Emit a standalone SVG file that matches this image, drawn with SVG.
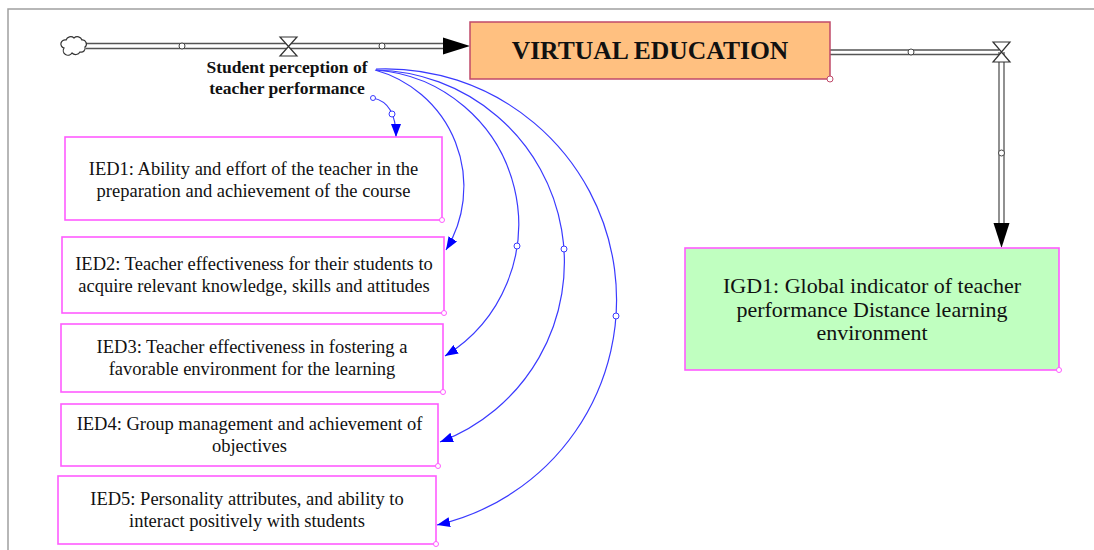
<svg xmlns="http://www.w3.org/2000/svg" width="1094" height="550" viewBox="0 0 1094 550">
<style>
.bg{fill:#ffffff}
.frame{fill:none;stroke:#a0a0a0;stroke-width:1.5}
.pipe{fill:none;stroke:#555;stroke-width:1.3}
.pipew{fill:none;stroke:#ffffff;stroke-width:3.5}
.valve{fill:#ffffff;stroke:#333;stroke-width:1.2}
.pc{fill:#ffffff;stroke:#444;stroke-width:1}
.box{fill:#ffffff;stroke:#ff5cff;stroke-width:1.6}
.corner{fill:#ffffff;stroke:#ff5cff;stroke-width:1}
.lnk{fill:none;stroke:#3a3aff;stroke-width:1.2}
.bc{fill:#ffffff;stroke:#3a3aff;stroke-width:1}
.t{font-family:"Liberation Serif","Times New Roman",serif;font-size:18.5px;fill:#111;text-anchor:middle}
</style>
<defs>
<marker id="ba" markerUnits="userSpaceOnUse" markerWidth="14" markerHeight="10" refX="13" refY="5" orient="auto">
<path d="M0,0 L13,5 L0,10 z" fill="#0000ff"/>
</marker>
</defs>
<rect class="bg" x="0" y="0" width="1094" height="550"/>
<path class="frame" d="M8,550 V9 H1094"/>

<g id="connectors">
<!-- inflow pipe -->
<line x1="86" y1="43.5" x2="446" y2="43.5" class="pipe"/>
<line x1="86" y1="48.5" x2="446" y2="48.5" class="pipe"/>
<polygon points="443,37.5 470,46 443,54.5" fill="#000"/>
<circle cx="182" cy="46" r="3" class="pc"/>
<circle cx="382" cy="46" r="3" class="pc"/>
<path class="valve" d="M280,37 H297 L288.5,46.5 Z M288.5,46.5 L280,56 H297 Z"/>
<!-- outflow pipe -->
<line x1="830" y1="50" x2="999" y2="50" class="pipe"/>
<line x1="830" y1="54.5" x2="999" y2="54.5" class="pipe"/>
<line x1="999" y1="52" x2="999" y2="226" class="pipe"/>
<line x1="1004" y1="52" x2="1004" y2="226" class="pipe"/>
<polygon points="993.5,223 1009.5,223 1001.5,248" fill="#000"/>
<circle cx="911" cy="52" r="3" class="pc"/>
<circle cx="1001.5" cy="153" r="3" class="pc"/>
<path class="valve" d="M993,42 H1010 L1001.5,52 Z M1001.5,52 L993,62 H1010 Z"/>
<!-- information links -->
<path class="lnk" d="M373,98 C388,101 396,114 396,137" marker-end="url(#ba)"/>
<circle cx="373" cy="98" r="2.5" class="bc"/>
<circle cx="392" cy="114" r="3" class="bc"/>
<path class="lnk" d="M375,70 A121,121 0 0 1 446,250" marker-end="url(#ba)"/>
<path class="lnk" d="M376,70 A154.7,154.7 0 0 1 445,356" marker-end="url(#ba)"/>
<circle cx="517" cy="246" r="3" class="bc"/>
<path class="lnk" d="M376,70 A192.2,192.2 0 0 1 440,442" marker-end="url(#ba)"/>
<circle cx="564" cy="249" r="3" class="bc"/>
<path class="lnk" d="M376,69 A231,231 0 0 1 437,525" marker-end="url(#ba)"/>
<circle cx="616" cy="316" r="3" class="bc"/>
</g>

<g id="cloud">
<path d="M64,48 a4,4 0 0 1 2,-8 a5,5 0 0 1 8,-2 a5,5 0 0 1 8,2 a4,4 0 0 1 3,7 a4,4 0 0 1 -5,5 a5,5 0 0 1 -8,1 a4,4 0 0 1 -8,-5 z" fill="#fff" stroke="#333" stroke-width="1.2"/>
</g>

<g id="student-perception">
<text class="t" x="287" y="73" style="font-weight:bold;font-size:17.5px">Student perception of</text>
<text class="t" x="287" y="94" style="font-weight:bold;font-size:17.5px">teacher performance</text>
</g>

<g id="virtual-education">
<rect x="470" y="22" width="360" height="57" fill="#ffc080" stroke="#c04a6a" stroke-width="1.5"/>
<circle cx="830" cy="79" r="3" fill="#fff" stroke="#c04a6a" stroke-width="1"/>
<text class="t" x="650" y="59" style="font-weight:bold;font-size:25.6px">VIRTUAL EDUCATION</text>
</g>

<g id="ied1">
<rect class="box" x="65" y="137" width="377" height="83"/>
<circle class="corner" cx="442" cy="220" r="2.5"/>
<text class="t" x="253.5" y="175">IED1: Ability and effort of the teacher in the</text>
<text class="t" x="253.5" y="197">preparation and achievement of the course</text>
</g>

<g id="ied2">
<rect class="box" x="62" y="237" width="382" height="76"/>
<circle class="corner" cx="444" cy="313" r="2.5"/>
<text class="t" x="254" y="270">IED2: Teacher effectiveness for their students to</text>
<text class="t" x="254" y="292">acquire relevant knowledge, skills and attitudes</text>
</g>

<g id="ied3">
<rect class="box" x="61" y="324" width="382" height="68"/>
<circle class="corner" cx="443" cy="392" r="2.5"/>
<text class="t" x="252" y="353">IED3: Teacher effectiveness in fostering a</text>
<text class="t" x="252" y="375">favorable environment for the learning</text>
</g>

<g id="ied4">
<rect class="box" x="61" y="404" width="377" height="62"/>
<circle class="corner" cx="438" cy="466" r="2.5"/>
<text class="t" x="249.5" y="430">IED4: Group management and achievement of</text>
<text class="t" x="249.5" y="452">objectives</text>
</g>

<g id="ied5">
<rect class="box" x="58" y="476" width="378" height="68"/>
<circle class="corner" cx="436" cy="544" r="2.5"/>
<text class="t" x="247" y="505">IED5: Personality attributes, and ability to</text>
<text class="t" x="247" y="527">interact positively with students</text>
</g>

<g id="igd1">
<rect x="685" y="248" width="374" height="122" fill="#c0ffc0" stroke="#ff5cff" stroke-width="1.6"/>
<circle class="corner" cx="1059" cy="370" r="2.5"/>
<text class="t" x="872" y="293" style="font-size:22px">IGD1: Global indicator of teacher</text>
<text class="t" x="872" y="317" style="font-size:22px">performance Distance learning</text>
<text class="t" x="872" y="340" style="font-size:22px">environment</text>
</g>
</svg>
